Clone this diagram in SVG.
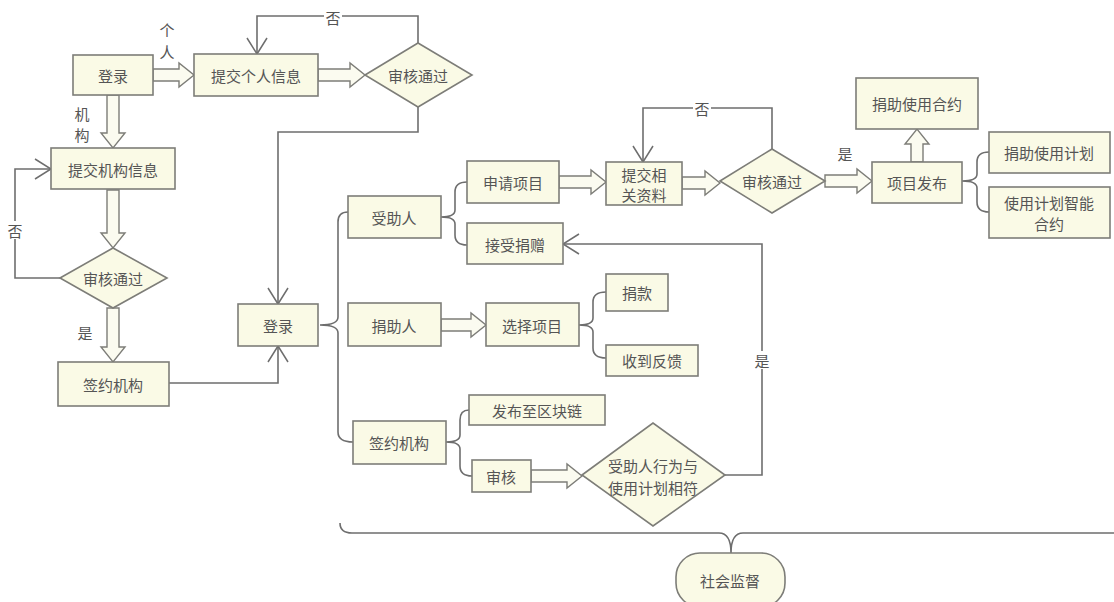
<svg xmlns="http://www.w3.org/2000/svg" width="1114" height="602" viewBox="0 0 1114 602">
<style>
.b{fill:#fafae6;stroke:#7d7d78;stroke-width:1.6}
.t{font-family:"Noto Sans CJK SC","Noto Sans",sans-serif;font-size:15px;fill:#555;text-anchor:middle;dominant-baseline:central}
.l{fill:none;stroke:#6e6e6e;stroke-width:1.6}
.h{fill:#fbfbf0;stroke:#7d7d78;stroke-width:1.4}
.bg{fill:#fff}
</style>
<defs>
<marker id="v" markerUnits="userSpaceOnUse" markerWidth="20" markerHeight="22" viewBox="0 0 20 22" refX="17" refY="11" orient="auto" overflow="visible">
<path d="M1,1 L17,11 L1,21" fill="none" stroke="#6e6e6e" stroke-width="1.5"/>
</marker>
</defs>
<rect width="1114" height="602" fill="#fff"/>
<g id="connectors">
<path class="l" d="M418,43 L418,16 L257,16 L257,54" marker-end="url(#v)"/>
<path class="l" d="M418,107 L418,132 L278,132 L278,304" marker-end="url(#v)"/>
<path class="l" d="M60,278 L15,278 L15,169 L51,169" marker-end="url(#v)"/>
<path class="l" d="M169,383 L278,383 L278,346" marker-end="url(#v)"/>
<path class="l" d="M772,149 L772,108 L643,108 L643,162" marker-end="url(#v)"/>
<path class="l" d="M725,475 L762,475 L762,244 L563,244" marker-end="url(#v)"/>
<path class="l" d="M348,212 Q338,212 338,222 L338,317 Q338,325 320,325 Q338,325 338,333 L338,432 Q338,442 353,442"/>
<path class="l" d="M467,182 Q455,182 455,192 L455,210 Q455,217 441,217 Q455,217 455,224 L455,235 Q455,245 467,245"/>
<path class="l" d="M606,292 Q593,292 593,302 L593,318 Q593,325 579,325 Q593,325 593,332 L593,348 Q593,358 606,358"/>
<path class="l" d="M469,410 Q460,410 460,420 L460,435 Q460,442 446,442 Q460,442 460,449 L460,466 Q460,476 472,476"/>
<path class="l" d="M989,152 Q977,152 977,162 L977,174 Q977,181 962,181 Q977,181 977,188 L977,202 Q977,212 989,212"/>
<path class="l" d="M340,523 Q340,533 352,533 L719,533 Q731,533 731,553 Q731,533 743,533 L1114,533"/>
<polygon class="h" points="153,69 179,69 179,63 194,75 179,87 179,81 153,81"/>
<polygon class="h" points="318,69 350,69 350,63 365,75 350,87 350,81 318,81"/>
<polygon class="h" points="559,176 591,176 591,170 606,182 591,194 591,188 559,188"/>
<polygon class="h" points="682,177 705,177 705,171 720,183 705,195 705,189 682,189"/>
<polygon class="h" points="825,175 857,175 857,169 872,181 857,193 857,187 825,187"/>
<polygon class="h" points="441,319 471,319 471,313 486,325 471,337 471,331 441,331"/>
<polygon class="h" points="531,470 567,470 567,464 582,476 567,488 567,482 531,482"/>
<polygon class="h" points="107,95 119,95 119,133 125,133 113,148 101,133 107,133"/>
<polygon class="h" points="107,190 119,190 119,233 125,233 113,248 101,233 107,233"/>
<polygon class="h" points="107,308 119,308 119,347 125,347 113,362 101,347 107,347"/>
<polygon class="h" points="911,162 923,162 923,144 929,144 917,129 905,144 911,144"/>
<rect class="bg" x="324" y="8" width="18" height="18"/><text class="t" x="333" y="17">否</text>
<rect class="bg" x="6" y="221" width="18" height="18"/><text class="t" x="15" y="230">否</text>
<rect class="bg" x="693" y="99" width="18" height="18"/><text class="t" x="702" y="108">否</text>
<rect class="bg" x="753" y="351" width="18" height="18"/><text class="t" x="762" y="360">是</text>
<text class="t" x="85" y="332">是</text>
<text class="t" x="845" y="153">是</text>
<text class="t" x="167" y="29">个</text>
<text class="t" x="167" y="51">人</text>
<text class="t" x="82" y="113">机</text>
<text class="t" x="82" y="134">构</text>
</g>
<g id="login1"><rect class="b" x="73" y="55" width="80" height="40"/><text class="t" x="113" y="75">登录</text></g>
<g id="submitPersonal"><rect class="b" x="194" y="54" width="124" height="42"/><text class="t" x="256" y="75">提交个人信息</text></g>
<g id="review1"><polygon class="b" points="365,75 418,43 472,75 418,107"/><text class="t" x="418" y="75">审核通过</text></g>
<g id="submitOrg"><rect class="b" x="51" y="148" width="124" height="41"/><text class="t" x="113" y="169">提交机构信息</text></g>
<g id="reviewOrg"><polygon class="b" points="60,278 113,248 167,278 113,308"/><text class="t" x="113" y="278">审核通过</text></g>
<g id="signedOrg1"><rect class="b" x="58" y="362" width="111" height="44"/><text class="t" x="113" y="384">签约机构</text></g>
<g id="login2"><rect class="b" x="238" y="304" width="80" height="42"/><text class="t" x="278" y="325">登录</text></g>
<g id="recipient"><rect class="b" x="348" y="196" width="93" height="42"/><text class="t" x="394" y="217">受助人</text></g>
<g id="apply"><rect class="b" x="467" y="161" width="92" height="42"/><text class="t" x="513" y="182">申请项目</text></g>
<g id="receive"><rect class="b" x="467" y="223" width="96" height="41"/><text class="t" x="515" y="244">接受捐赠</text></g>
<g id="submitDocs"><rect class="b" x="606" y="162" width="76" height="43"/><text class="t" x="644" y="174">提交相</text><text class="t" x="644" y="194">关资料</text></g>
<g id="review2"><polygon class="b" points="720,181 772,149 825,181 772,213"/><text class="t" x="772" y="181">审核通过</text></g>
<g id="publish"><rect class="b" x="872" y="162" width="90" height="41"/><text class="t" x="917" y="182">项目发布</text></g>
<g id="contract"><rect class="b" x="856" y="78" width="122" height="51"/><text class="t" x="917" y="103">捐助使用合约</text></g>
<g id="plan"><rect class="b" x="989" y="132" width="121" height="41"/><text class="t" x="1049" y="152">捐助使用计划</text></g>
<g id="smart"><rect class="b" x="989" y="187" width="121" height="51"/><text class="t" x="1049" y="202">使用计划智能</text><text class="t" x="1049" y="223">合约</text></g>
<g id="donor"><rect class="b" x="348" y="303" width="93" height="43"/><text class="t" x="394" y="325">捐助人</text></g>
<g id="select"><rect class="b" x="486" y="303" width="93" height="43"/><text class="t" x="532" y="325">选择项目</text></g>
<g id="donate"><rect class="b" x="606" y="274" width="62" height="37"/><text class="t" x="637" y="292">捐款</text></g>
<g id="feedback"><rect class="b" x="606" y="345" width="92" height="31"/><text class="t" x="652" y="360">收到反馈</text></g>
<g id="signedOrg2"><rect class="b" x="353" y="421" width="93" height="43"/><text class="t" x="399" y="442">签约机构</text></g>
<g id="blockchain"><rect class="b" x="469" y="395" width="136" height="30"/><text class="t" x="537" y="410">发布至区块链</text></g>
<g id="audit"><rect class="b" x="472" y="460" width="59" height="32"/><text class="t" x="501" y="476">审核</text></g>
<g id="review3"><polygon class="b" points="582,475 653,423 725,475 653,526"/><text class="t" x="653" y="465">受助人行为与</text><text class="t" x="653" y="487">使用计划相符</text></g>
<g id="supervise"><rect class="b" x="676" y="553" width="109" height="54" rx="24"/><text class="t" x="730" y="580">社会监督</text></g>
</svg>
